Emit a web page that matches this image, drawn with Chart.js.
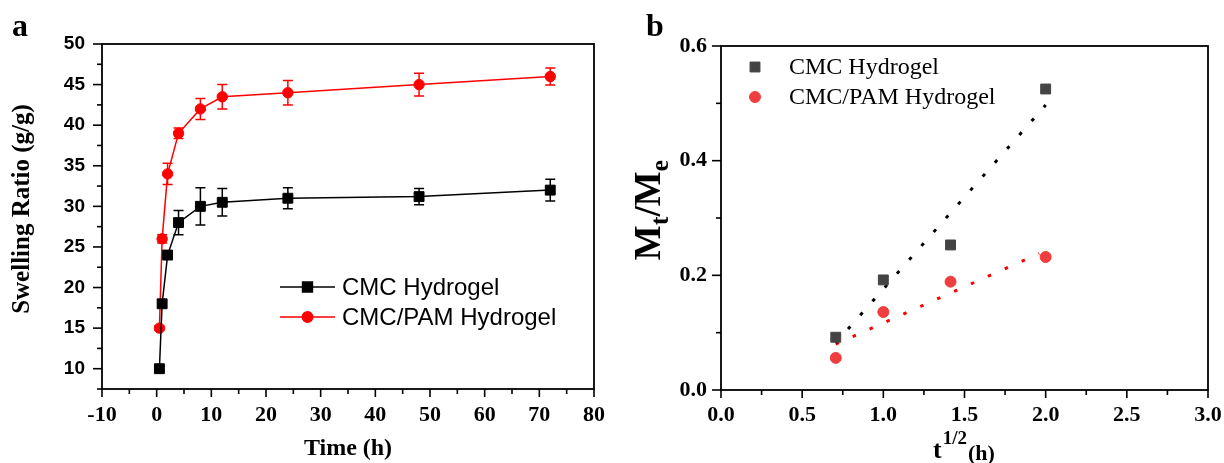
<!DOCTYPE html>
<html><head><meta charset="utf-8">
<script src="https://cdn.jsdelivr.net/npm/chart.js@4.4.1/dist/chart.umd.min.js"></script>
<style>
html,body{margin:0;padding:0;background:#fff;}
#wrap{position:relative;width:1224px;height:463px;overflow:hidden;background:#fff;}
#ca{position:absolute;left:0;top:0;}
#cb{position:absolute;left:620px;top:0;}
</style></head><body>
<div id="wrap"><canvas id="ca" width="620" height="463"></canvas><canvas id="cb" width="604" height="463"></canvas></div>
<script>
// ---------- Panel a data ----------
const timeH    = [0.5, 1, 2, 4, 8, 12, 24, 48, 72];
const cmcSwell = [10, 18, 24, 28, 30, 30.5, 31, 31.2, 32];
const cmcErr   = [0.3, 0.4, 0.5, 1.5, 2.3, 1.7, 1.3, 1.0, 1.35];
const pamSwell = [15, 26, 34, 39, 42, 43.5, 44, 45, 46];
const pamErr   = [0.3, 0.5, 1.3, 0.65, 1.3, 1.5, 1.5, 1.4, 1.05];
const aXLabels = [-10, 0, 10, 20, 30, 40, 50, 60, 70, 80];
const aYLabels = [10, 15, 20, 25, 30, 35, 40, 45, 50];

// ---------- Panel b data ----------
const sqrtT    = [0.707, 1.0, 1.414, 2.0];
const cmcMtMe  = [0.092, 0.192, 0.253, 0.525];
const pamMtMe  = [0.056, 0.136, 0.189, 0.232];
const cmcFitX  = [0.707, 2.0];
const cmcFitY  = [0.082, 0.497];
const pamFitX  = [0.707, 1.96];
const pamFitY  = [0.080, 0.238];
const bXLabels = ['0.0', '0.5', '1.0', '1.5', '2.0', '2.5', '3.0'];
const bYLabels = ['0.0', '0.2', '0.4', '0.6'];

const SERIF = '"Liberation Serif", "Times New Roman", serif';
const SANS  = '"Liberation Sans", Arial, sans-serif';
const toXY = (xs, ys) => xs.map((x, i) => ({x, y: ys[i]}));

function drawFrameAndTicks(chart) {
  const {ctx, chartArea: ca, scales: {x, y}} = chart;
  ctx.save();
  ctx.strokeStyle = '#000';
  ctx.lineWidth = 1.6;
  x.ticks.forEach(t => {
    const px = x.getPixelForValue(t.value);
    const len = t.label !== '' ? 8 : 5;
    ctx.beginPath(); ctx.moveTo(px, ca.bottom); ctx.lineTo(px, ca.bottom + len); ctx.stroke();
  });
  y.ticks.forEach(t => {
    const py = y.getPixelForValue(t.value);
    const len = t.label !== '' ? 9 : 5;
    ctx.beginPath(); ctx.moveTo(ca.left, py); ctx.lineTo(ca.left - len, py); ctx.stroke();
  });
  ctx.lineWidth = 1.8;
  ctx.strokeRect(ca.left, ca.top, ca.right - ca.left, ca.bottom - ca.top);
  ctx.restore();
}

// ---------- Panel a ----------
const errPlugin = {
  id: 'errbars',
  beforeDatasetsDraw(chart) {
    const {ctx, scales: {x, y}} = chart;
    ctx.save();
    chart.data.datasets.forEach(ds => {
      if (!ds.err) return;
      ctx.strokeStyle = ds.borderColor;
      ctx.lineWidth = 1.5;
      ds.data.forEach((p, i) => {
        const e = ds.err[i];
        const px = x.getPixelForValue(p.x);
        const top = y.getPixelForValue(p.y + e), bot = y.getPixelForValue(p.y - e);
        ctx.beginPath();
        ctx.moveTo(px, top); ctx.lineTo(px, bot);
        ctx.moveTo(px - 5, top); ctx.lineTo(px + 5, top);
        ctx.moveTo(px - 5, bot); ctx.lineTo(px + 5, bot);
        ctx.stroke();
      });
    });
    ctx.restore();
  }
};

const decoA = {
  id: 'decoA',
  afterDraw(chart) {
    const {ctx, chartArea: ca} = chart;
    drawFrameAndTicks(chart);
    ctx.save();
    ctx.fillStyle = '#000';
    ctx.font = 'bold 32px ' + SERIF;
    ctx.textAlign = 'left'; ctx.textBaseline = 'alphabetic';
    ctx.fillText('a', 12, 36);
    ctx.font = 'bold 24px ' + SERIF;
    ctx.textAlign = 'center'; ctx.textBaseline = 'middle';
    ctx.fillText('Time (h)', (ca.left + ca.right) / 2, 449);
    ctx.save();
    ctx.font = 'bold 25px ' + SERIF;
    ctx.translate(23, 209);
    ctx.rotate(-Math.PI / 2);
    ctx.fillText('Swelling Ratio (g/g)', 0, 0);
    ctx.restore();
    const rows = [287, 317];
    chart.data.datasets.forEach((ds, i) => {
      const yy = rows[i];
      ctx.strokeStyle = ds.borderColor; ctx.lineWidth = 1.5;
      ctx.beginPath(); ctx.moveTo(280, yy); ctx.lineTo(335, yy); ctx.stroke();
      ctx.fillStyle = ds.backgroundColor; ctx.strokeStyle = ds.borderColor;
      Chart.helpers.drawPoint(ctx, {pointStyle: ds.pointStyle, radius: ds.pointRadius, rotation: 0, borderWidth: 1}, 307.5, yy);
      ctx.fillStyle = '#000';
      ctx.font = '24px ' + SANS;
      ctx.textAlign = 'left'; ctx.textBaseline = 'middle';
      ctx.fillText(ds.label, 342, yy + 1);
    });
    ctx.restore();
  }
};

const noPad = s => { s.paddingLeft = 0; s.paddingRight = 0; };

new Chart(document.getElementById('ca'), {
  type: 'line',
  data: {
    datasets: [
      {label: 'CMC Hydrogel', data: toXY(timeH, cmcSwell), err: cmcErr,
       borderColor: '#000', backgroundColor: '#000', borderWidth: 1.5,
       pointStyle: 'rect', pointRadius: 7, pointBorderWidth: 1, tension: 0},
      {label: 'CMC/PAM Hydrogel', data: toXY(timeH, pamSwell), err: pamErr,
       borderColor: '#ff0000', backgroundColor: '#ff0000', borderWidth: 1.5,
       pointStyle: 'circle', pointRadius: 5.2, pointBorderWidth: 1, tension: 0}
    ]
  },
  options: {
    responsive: false, animation: false,
    layout: {padding: {left: 0, right: 26, top: 44, bottom: 0}},
    plugins: {legend: {display: false}, tooltip: {enabled: false}},
    scales: {
      x: {type: 'linear', min: -10, max: 80,
          ticks: {stepSize: 5, maxTicksLimit: 100, autoSkip: false, maxRotation: 0, minRotation: 0,
                  callback: v => aXLabels.includes(v) ? String(v) : '',
                  font: {family: SERIF, weight: 'bold', size: 22}, color: '#000', padding: 13},
          grid: {display: false, drawTicks: false}, border: {display: false},
          afterFit: s => { s.height = 74; noPad(s); }},
      y: {type: 'linear', min: 7.5, max: 50,
          ticks: {stepSize: 2.5, maxTicksLimit: 100, autoSkip: false,
                  callback: v => aYLabels.includes(v) ? String(v) : '',
                  font: {family: SANS, weight: 'bold', size: 19}, color: '#000', padding: 17},
          grid: {display: false, drawTicks: false}, border: {display: false},
          afterFit: s => { s.width = 102; }}
    }
  },
  plugins: [errPlugin, decoA]
});

// ---------- Panel b ----------
const decoB = {
  id: 'decoB',
  afterDraw(chart) {
    const {ctx, chartArea: ca} = chart;
    drawFrameAndTicks(chart);
    ctx.save();
    ctx.fillStyle = '#000';
    ctx.font = 'bold 32px ' + SERIF;
    ctx.textAlign = 'left'; ctx.textBaseline = 'alphabetic';
    ctx.fillText('b', 26, 36);
    const cx = (ca.left + ca.right) / 2;
    const parts = [
      {t: 't', f: 'bold 26px ' + SERIF, dy: 0},
      {t: '1/2', f: 'bold 19px ' + SERIF, dy: -14},
      {t: '(h)', f: 'bold 22px ' + SERIF, dy: 2}
    ];
    let total = 0;
    parts.forEach(p => { ctx.font = p.f; p.w = ctx.measureText(p.t).width; total += p.w + 1; });
    let xx = cx - total / 2;
    ctx.textBaseline = 'alphabetic';
    parts.forEach(p => { ctx.font = p.f; ctx.fillText(p.t, xx, 458 + p.dy); xx += p.w + 1; });
    ctx.save();
    ctx.translate(28, 210);
    ctx.rotate(-Math.PI / 2);
    const yp = [
      {t: 'M', f: 'bold 37px ' + SERIF, dy: 0},
      {t: 't', f: 'bold 26px ' + SERIF, dy: 8},
      {t: '/', f: 'bold 37px ' + SERIF, dy: 0},
      {t: 'M', f: 'bold 37px ' + SERIF, dy: 0},
      {t: 'e', f: 'bold 26px ' + SERIF, dy: 8}
    ];
    let tot2 = 0;
    yp.forEach(p => { ctx.font = p.f; p.w = ctx.measureText(p.t).width; tot2 += p.w; });
    let x2 = -tot2 / 2;
    yp.forEach(p => { ctx.font = p.f; ctx.fillText(p.t, x2, 12 + p.dy); x2 += p.w; });
    ctx.restore();
    const rows = [67, 97];
    [chart.data.datasets[0], chart.data.datasets[1]].forEach((ds, i) => {
      const yy = rows[i];
      ctx.fillStyle = ds.backgroundColor; ctx.strokeStyle = ds.borderColor;
      Chart.helpers.drawPoint(ctx, {pointStyle: ds.pointStyle, radius: ds.pointRadius, rotation: 0, borderWidth: 1}, 135, yy);
      ctx.fillStyle = '#000';
      ctx.font = '24px ' + SERIF;
      ctx.textAlign = 'left'; ctx.textBaseline = 'middle';
      ctx.fillText(ds.label, 169, yy + 1);
    });
    ctx.restore();
  }
};

new Chart(document.getElementById('cb'), {
  type: 'scatter',
  data: {
    datasets: [
      {label: 'CMC Hydrogel', data: toXY(sqrtT, cmcMtMe),
       borderColor: '#444444', backgroundColor: '#444444',
       pointStyle: 'rect', pointRadius: 7, pointBorderWidth: 1, showLine: false},
      {label: 'CMC/PAM Hydrogel', data: toXY(sqrtT, pamMtMe),
       borderColor: '#ee3e3e', backgroundColor: '#ee3e3e',
       pointStyle: 'circle', pointRadius: 5.5, pointBorderWidth: 1, showLine: false},
      {label: 'CMC fit', data: toXY(cmcFitX, cmcFitY), showLine: true,
       borderColor: '#000', borderWidth: 3, borderDash: [3.5, 15], pointRadius: 0},
      {label: 'CMC/PAM fit', data: toXY(pamFitX, pamFitY), showLine: true,
       borderColor: '#ff0000', borderWidth: 3, borderDash: [3.5, 15], pointRadius: 0}
    ]
  },
  options: {
    responsive: false, animation: false,
    layout: {padding: {left: 0, right: 16, top: 46, bottom: 0}},
    plugins: {legend: {display: false}, tooltip: {enabled: false}},
    scales: {
      x: {type: 'linear', min: 0, max: 3,
          ticks: {stepSize: 0.25, maxTicksLimit: 100, autoSkip: false, maxRotation: 0, minRotation: 0,
                  callback: v => bXLabels.includes(v.toFixed(1)) && Math.abs(v * 2 - Math.round(v * 2)) < 1e-6 ? v.toFixed(1) : '',
                  font: {family: SERIF, weight: 'bold', size: 22}, color: '#000', padding: 12},
          grid: {display: false, drawTicks: false}, border: {display: false},
          afterFit: s => { s.height = 73; noPad(s); }},
      y: {type: 'linear', min: 0, max: 0.6,
          ticks: {stepSize: 0.1, maxTicksLimit: 100, autoSkip: false,
                  callback: v => (Math.round(v * 10) % 2 === 0 && bYLabels.includes(v.toFixed(1))) ? v.toFixed(1) : '',
                  font: {family: SERIF, weight: 'bold', size: 22}, color: '#000', padding: 14},
          grid: {display: false, drawTicks: false}, border: {display: false},
          afterFit: s => { s.width = 101; }}
    }
  },
  plugins: [decoB]
});
</script>
</body></html>
